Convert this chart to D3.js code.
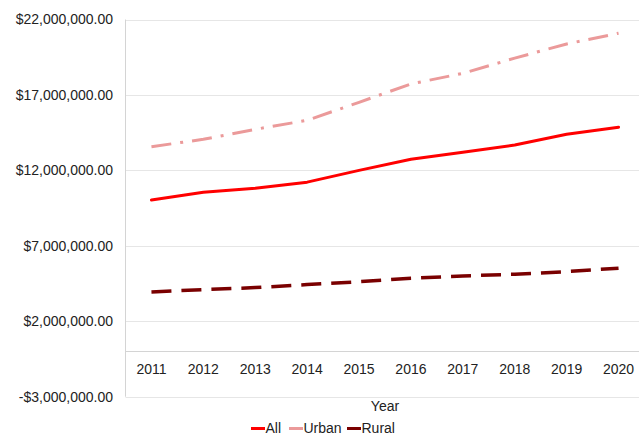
<!DOCTYPE html>
<html><head><meta charset="utf-8">
<script src="https://cdn.jsdelivr.net/npm/d3@7"></script>
<style>body{margin:0;background:#fff}svg{display:block;font-family:"Liberation Sans",Arial,sans-serif}</style>
</head><body><svg id="c" width="639" height="436"></svg>
<script>
const years = ["2011","2012","2013","2014","2015","2016","2017","2018","2019","2020"];
const allValues   = [10040000,10550000,10810000,11220000,12000000,12740000,13200000,13680000,14390000,14860000];
const urbanValues = [13570000,14060000,14720000,15320000,16510000,17730000,18430000,19440000,20380000,21090000];
const ruralValues = [3940000,4100000,4230000,4430000,4620000,4850000,5000000,5120000,5290000,5520000];
const yTicks = [-3000000,2000000,7000000,12000000,17000000,22000000];
const seriesNames = ["All","Urban","Rural"];
const xTitle = "Year";

const series = [
  {name:seriesNames[0], values:allValues,   color:"#ff0000", width:3,   dash:null},
  {name:seriesNames[1], values:urbanValues, color:"#eb9a9a", width:3,   dash:"20,9,3,9"},
  {name:seriesNames[2], values:ruralValues, color:"#7a0000", width:3.5, dash:"20,10"}
];

const svg = d3.select("#c");
const mLeft = 125.5, mTop = 19.5, plotW = 519, plotH = 377.2;
const x = d3.scaleBand().domain(years).range([mLeft, mLeft+plotW]).padding(0);
const y = d3.scaleLinear().domain([-3000000,22000000]).range([mTop+plotH, mTop]);
const fmt = v => (v<0?"-":"") + "$" + d3.format(",.2f")(Math.abs(v));

// gridlines
svg.append("g").selectAll("line").data(yTicks).join("line")
  .attr("x1", mLeft).attr("x2", mLeft+plotW)
  .attr("y1", d=>Math.round(y(d))+0.5).attr("y2", d=>Math.round(y(d))+0.5)
  .attr("stroke", "#e6e6e6").attr("stroke-width",1);

// zero line
svg.append("line").attr("x1", mLeft).attr("x2", mLeft+plotW)
  .attr("y1", Math.round(y(0))+0.5).attr("y2", Math.round(y(0))+0.5)
  .attr("stroke","#d4d4d4").attr("stroke-width",1);

// left axis line
svg.append("line").attr("x1", mLeft).attr("x2", mLeft)
  .attr("y1", mTop).attr("y2", mTop+plotH)
  .attr("stroke","#d4d4d4").attr("stroke-width",1);

// y labels
svg.append("g").selectAll("text").data(yTicks).join("text")
  .attr("x", 113).attr("y", d=>y(d)+4.8)
  .attr("text-anchor","end").attr("font-size",14).attr("fill","#222")
  .text(fmt);

// x labels
svg.append("g").selectAll("text").data(years).join("text")
  .attr("x", d=>x(d)+x.bandwidth()/2).attr("y", y(0)+22.3)
  .attr("text-anchor","middle").attr("font-size",14).attr("fill","#222")
  .text(d=>d);

// x title
svg.append("text").attr("x", mLeft+plotW/2).attr("y", 411)
  .attr("text-anchor","middle").attr("font-size",14).attr("fill","#222").text(xTitle);

// lines
const line = d3.line().x((d,i)=>x(years[i])+x.bandwidth()/2).y(d=>y(d));
series.forEach(s=>{
  svg.append("path").datum(s.values).attr("d", line)
    .attr("fill","none").attr("stroke", s.color).attr("stroke-width", s.width)
    .attr("stroke-dasharray", s.dash).attr("stroke-linejoin","round")
    .attr("stroke-linecap", s.dash ? "butt" : "round");
});

// legend
const legX = [251, 289, 347];
const lg = svg.append("g");
series.forEach((s,i)=>{
  lg.append("line").attr("x1", legX[i]).attr("x2", legX[i]+14)
    .attr("y1", 428.5).attr("y2", 428.5)
    .attr("stroke", s.color).attr("stroke-width", 3);
  lg.append("text").attr("x", legX[i]+14.5).attr("y", 432.5)
    .attr("font-size",14).attr("fill","#222").text(s.name);
});
</script></body></html>
